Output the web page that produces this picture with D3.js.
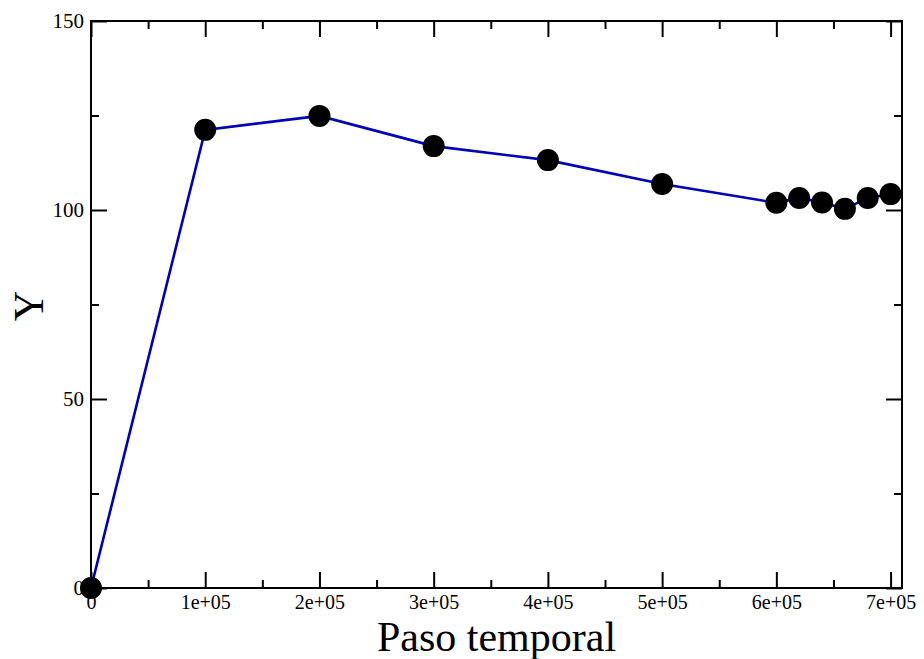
<!DOCTYPE html>
<html><head><meta charset="utf-8">
<script src="https://cdn.jsdelivr.net/npm/d3@7"></script>
<style>body{margin:0;background:#fff}svg{display:block}text{font-family:"Liberation Serif","Times New Roman",serif;fill:#000}</style>
</head><body>
<script>
const steps = [0, 100000, 200000, 300000, 400000, 500000, 600000, 620000, 640000, 660000, 680000, 700000];
const yValues = [0, 121.2, 124.9, 116.9, 113.2, 106.9, 101.9, 103.2, 102.0, 100.3, 103.2, 104.2];
const xTickValues = [0, 100000, 200000, 300000, 400000, 500000, 600000, 700000];
const xTickLabels = ["0", "1e+05", "2e+05", "3e+05", "4e+05", "5e+05", "6e+05", "7e+05"];
const yTickValues = [0, 50, 100, 150];
const yTickLabels = ["0", "50", "100", "150"];
const xMinorTicks = [50000, 150000, 250000, 350000, 450000, 550000, 650000];
const yMinorTicks = [25, 75, 125];

const W = 924, H = 659;
const L = 91, R = 902, T = 21, B = 588;
const svg = d3.select("body").append("svg").attr("width", W).attr("height", H);
const x = d3.scaleLinear().domain([0, 710000]).range([L, R]);
const y = d3.scaleLinear().domain([0, 150]).range([B, T]);

const g = svg.append("g");
g.append("rect").attr("x", L).attr("y", T).attr("width", R - L).attr("height", B - T)
  .attr("fill", "none").attr("stroke", "#000").attr("stroke-width", 2);

function styleAxis(sel) {
  sel.attr("font-size", null).attr("font-family", null);
  sel.select(".domain").remove();
  sel.selectAll(".tick line").attr("stroke", "#000").attr("stroke-width", 2);
}
const majorLen = 16, minorLen = 8;
// bottom
g.append("g").attr("transform", `translate(0,${B})`)
  .call(d3.axisBottom(x).tickValues(xTickValues).tickSize(-majorLen).tickPadding(7)
    .tickFormat((d, i) => xTickLabels[i]))
  .call(styleAxis)
  .call(s => s.selectAll("text").style("font-size", "20px").style("font-family", "Liberation Serif").style("fill", "#000"));
g.append("g").attr("transform", `translate(0,${B})`)
  .call(d3.axisBottom(x).tickValues(xMinorTicks).tickSize(-minorLen).tickFormat(""))
  .call(styleAxis);
// top
g.append("g").attr("transform", `translate(0,${T})`)
  .call(d3.axisTop(x).tickValues(xTickValues).tickSize(-majorLen).tickFormat(""))
  .call(styleAxis);
g.append("g").attr("transform", `translate(0,${T})`)
  .call(d3.axisTop(x).tickValues(xMinorTicks).tickSize(-minorLen).tickFormat(""))
  .call(styleAxis);
// left
g.append("g").attr("transform", `translate(${L},0)`)
  .call(d3.axisLeft(y).tickValues(yTickValues).tickSize(-majorLen).tickPadding(7)
    .tickFormat((d, i) => yTickLabels[i]))
  .call(styleAxis)
  .call(s => s.selectAll("text").style("font-size", "21px").style("font-family", "Liberation Serif").style("fill", "#000"));
g.append("g").attr("transform", `translate(${L},0)`)
  .call(d3.axisLeft(y).tickValues(yMinorTicks).tickSize(-minorLen).tickFormat(""))
  .call(styleAxis);
// right
g.append("g").attr("transform", `translate(${R},0)`)
  .call(d3.axisRight(y).tickValues(yTickValues).tickSize(-majorLen).tickFormat(""))
  .call(styleAxis);
g.append("g").attr("transform", `translate(${R},0)`)
  .call(d3.axisRight(y).tickValues(yMinorTicks).tickSize(-minorLen).tickFormat(""))
  .call(styleAxis);

// line
const pts = steps.map((s, i) => [s, yValues[i]]);
svg.append("path").datum(pts)
  .attr("fill", "none").attr("stroke", "#0000b8").attr("stroke-width", 2.6)
  .attr("d", d3.line().x(d => x(d[0])).y(d => y(d[1])));
// markers
svg.selectAll("circle.pt").data(pts).enter().append("circle").attr("class", "pt")
  .attr("cx", d => x(d[0])).attr("cy", d => y(d[1])).attr("r", 11).attr("fill", "#000");

// titles
svg.append("text").attr("x", (L + R) / 2).attr("y", 651).attr("text-anchor", "middle")
  .style("font-size", "42px").text("Paso temporal");
svg.append("text").attr("transform", `translate(43,${306}) rotate(-90)`).attr("text-anchor", "middle")
  .style("font-size", "42px").text("Y");
</script>
</body></html>
